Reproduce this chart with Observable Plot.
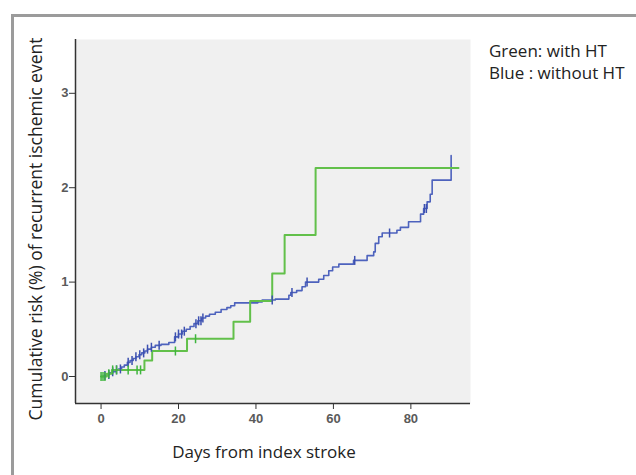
<!DOCTYPE html>
<html><head><meta charset="utf-8">
<script src="https://cdn.jsdelivr.net/npm/d3@7"></script>
<script src="https://cdn.jsdelivr.net/npm/@observablehq/plot@0.6"></script>
<style>body{margin:0;background:#fff}</style>
</head><body><div id="chart"></div>
<script>
const xTicks = [0, 20, 40, 60, 80];
const yTicks = [0, 1, 2, 3];
const xLabel = "Days from index stroke";
const yLabel = "Cumulative risk (%) of recurrent ischemic event";
const legendLines = ["Green: with HT", "Blue : without HT"];

// Green: with HT (Kaplan-Meier cumulative risk, step function)
const greenDays = [0, 1.5, 2.8, 11.2, 13.2, 22.2, 34.2, 38.5, 44.2, 47.4, 55.4, 92.3];
const greenRisk = [0, 0.03, 0.07, 0.17, 0.27, 0.40, 0.58, 0.80, 1.09, 1.50, 2.21, 2.21];
const greenCensorDays = [0, 0.5, 1, 2, 3, 4, 7, 9.3, 10.2, 19.2, 24.4];

// Blue: without HT
const blueDays = [0, 0.8, 1.5, 2.2, 3, 3.8, 4.5, 5.3, 6, 6.8, 7.5, 8.3, 9, 9.8, 10.5, 11.3, 12, 13, 14, 15.5, 17.5,
  19, 20, 21, 22, 23, 24, 25, 26, 27, 28, 29.5, 31, 32.5, 33.5, 34.5, 40.5, 41.6, 45, 48.5, 49, 50.5, 51.9, 52.8,
  56.2, 57.5, 58.8, 59.8, 61.4, 65.2, 68.7, 70.4, 70.8, 71.7, 72.6, 76.4, 77.3, 79.4, 82.5, 83.3, 84.2, 85, 85.5, 90.4];
const blueRisk = [0, 0.01, 0.02, 0.04, 0.05, 0.07, 0.08, 0.10, 0.12, 0.15, 0.17, 0.19, 0.21, 0.23, 0.25, 0.27, 0.29, 0.31, 0.33, 0.34, 0.36,
  0.42, 0.45, 0.48, 0.50, 0.53, 0.56, 0.59, 0.62, 0.64, 0.66, 0.68, 0.71, 0.73, 0.75, 0.78, 0.79, 0.81, 0.82, 0.86, 0.89, 0.91, 0.95, 1.00,
  1.03, 1.07, 1.12, 1.16, 1.19, 1.23, 1.28, 1.32, 1.41, 1.48, 1.52, 1.55, 1.58, 1.64, 1.72, 1.78, 1.85, 1.93, 2.08, 2.34];
const blueCensorDays = [1, 2, 3, 4, 5, 7, 8, 9, 10, 11, 12, 13, 15, 19.2, 20, 20.8, 21.5, 24.5, 25.2, 25.8, 26.3,
  44.2, 49.3, 53.2, 65.5, 74.5, 83.5, 84];

const green = greenDays.map((d, i) => ({day: d, risk: greenRisk[i]}));
const blue = blueDays.map((d, i) => ({day: d, risk: blueRisk[i]}));
function stepAt(series, d) {
  let v = series[0].risk;
  for (const p of series) if (p.day <= d) v = p.risk;
  return v;
}
const greenCens = greenCensorDays.map(d => ({day: d, risk: stepAt(green, d)}));
const blueCens = blueCensorDays.map(d => ({day: d, risk: stepAt(blue, d)}));

const tickSym = {draw(ctx, size) { const r = Math.sqrt(size / Math.PI); ctx.moveTo(0, -r); ctx.lineTo(0, r); }};

const GREEN = "#62c04a", BLUE = "#4d62bd";
const xDom = [-6.6, 95.4], yDom = [-0.286, 3.57];

const chart = Plot.plot({
  width: 636, height: 475,
  marginLeft: 75, marginRight: 166, marginTop: 39, marginBottom: 72,
  style: {background: "transparent", fontFamily: "Liberation Sans, Arial, sans-serif"},
  x: {domain: xDom, ticks: xTicks},
  y: {domain: yDom, ticks: yTicks},
  marks: [
    Plot.frame({fill: "#f0f0f0", stroke: "none"}),
    Plot.axisX({ticks: xTicks, tickFormat: d3.format("d"), tickSize: 6, tickPadding: 4, label: null, fontSize: 13, fontWeight: 600, color: "#5a5a5a", stroke: "#333"}),
    Plot.axisY({ticks: yTicks, tickFormat: d3.format("d"), tickSize: 6, tickPadding: 1, label: null, fontSize: 13, fontWeight: 600, color: "#5a5a5a", stroke: "#333"}),
    Plot.ruleX([xDom[0]], {stroke: "#333", strokeWidth: 1.5}),
    Plot.ruleY([yDom[0]], {stroke: "#333", strokeWidth: 1.5}),
    Plot.line(blue, {x: "day", y: "risk", curve: "step-after", stroke: BLUE, strokeWidth: 1.6}),
    Plot.line(green, {x: "day", y: "risk", curve: "step-after", stroke: GREEN, strokeWidth: 2}),
    Plot.dot(blueCens, {x: "day", y: "risk", r: 4.5, symbol: tickSym, stroke: "#3c50b0", fill: "none", strokeWidth: 1.5}),
    Plot.dot(greenCens, {x: "day", y: "risk", r: 4.5, symbol: tickSym, stroke: "#3fb53f", fill: "none", strokeWidth: 1.5})
  ]
});
document.getElementById("chart").appendChild(chart);

const svg = d3.select(chart);
svg.insert("rect", ":first-child").attr("x", 12.5).attr("y", 15.5).attr("width", 700).attr("height", 600)
  .attr("fill", "#fff").attr("stroke", "#9b9b9b").attr("stroke-width", 3);
const font = "'Open Sans', sans-serif";
svg.append("text").attr("x", 264).attr("y", 453).attr("text-anchor", "middle").attr("dominant-baseline", "middle")
  .style("font-family", font).style("font-size", "17px").attr("fill", "#222").text(xLabel);
svg.append("text").attr("transform", "translate(37,229) rotate(-90)").attr("text-anchor", "middle").attr("dominant-baseline", "middle")
  .style("font-family", font).style("font-size", "17.5px").attr("fill", "#222").text(yLabel);
legendLines.forEach((t, i) => {
  svg.append("text").attr("x", 489).attr("y", 52 + i * 22).attr("text-anchor", "start").attr("dominant-baseline", "middle")
    .style("font-family", font).style("font-size", "17px").attr("fill", "#222").text(t);
});
</script>
</body></html>
